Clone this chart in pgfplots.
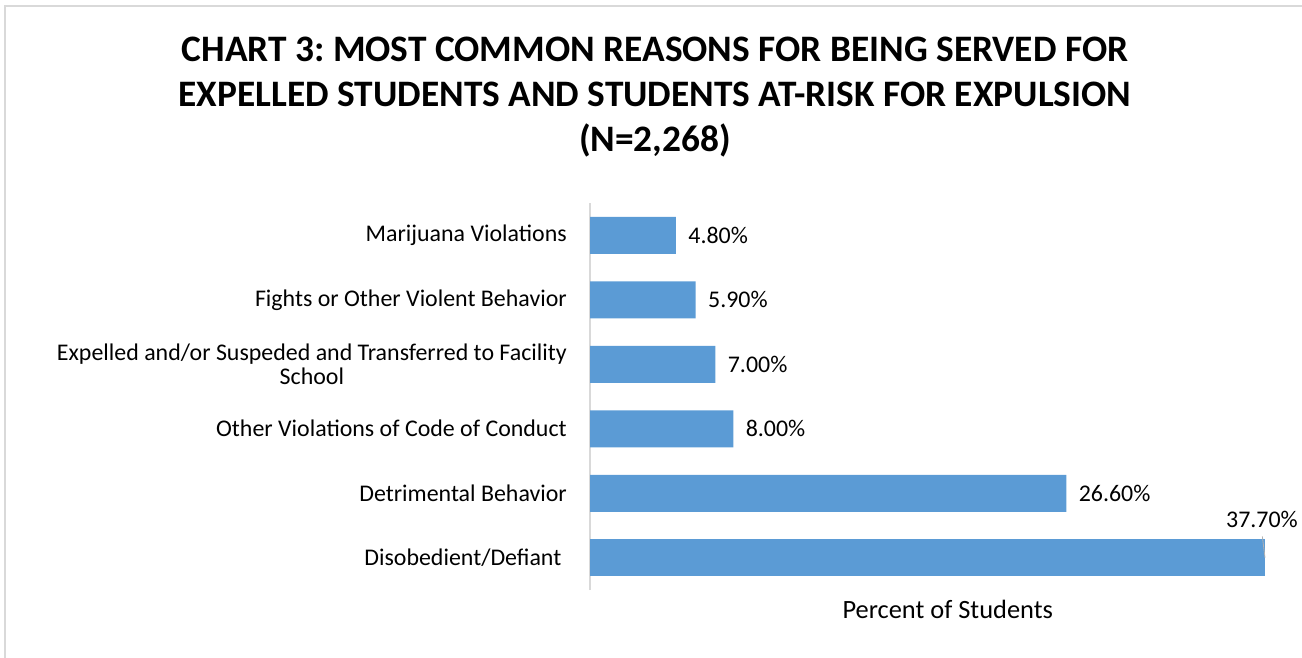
\documentclass[border=0pt]{standalone}
\usepackage{fontspec}
\setmainfont{Carlito}
\usepackage{pgfplots}
\pgfplotsset{compat=1.18}
\definecolor{barblue}{HTML}{5B9BD5}
\definecolor{framegray}{HTML}{D9D9D9}
\frenchspacing
\begin{document}
\begin{tikzpicture}[x=1bp,y=1bp]
\path[use as bounding box] (0,0) rectangle (1302,-657);
\draw[framegray, line width=1.5bp] (5,-670) -- (5,-6) -- (1310,-6);
\node[font=\fontsize{37.5}{45}\selectfont\bfseries, align=center] at (655,-97)
  {CHART 3: MOST COMMON REASONS FOR BEING SERVED FOR\\EXPELLED STUDENTS AND STUDENTS AT-RISK FOR EXPULSION\\(N=2,268)};
\begin{axis}[
  at={(590bp,-590bp)}, anchor=south west,
  scale only axis, width=675bp, height=387bp,
  xbar, bar width=37bp, bar shift=0pt,
  xmin=0, xmax=37.7, ymin=-0.5, ymax=5.5,
  axis x line*=bottom,
  x axis line style={draw=none},
  xtick=\empty,
  axis y line*=left,
  y axis line style={framegray, line width=1.2bp, -},
  ytick={0,1,2,3,4,5},
  yticklabels={{Disobedient/Defiant\ },{Detrimental Behavior},{Other Violations of Code of Conduct},{Expelled and/or Suspeded and Transferred to Facility\\School},{Fights or Other Violent Behavior},{Marijuana Violations}},
  major tick length=0pt,
  yticklabel style={font=\fontsize{24}{25}\selectfont, align=center, inner sep=0pt, xshift=-23bp},
  clip=false,
  point meta=explicit symbolic,
  nodes near coords,
  every node near coord/.append style={font=\fontsize{24}{25}\selectfont, black},
  xlabel={Percent of Students},
  xlabel style={font=\fontsize{26.5}{28}\selectfont, at={(axis description cs:0.53,0)}, anchor=north, yshift=-7bp},
]
\addplot[fill=barblue, draw=none, every node near coord/.append style={anchor=west, xshift=9bp}] coordinates {
  (26.6,1) [26.60\%]
  (8.0,2) [8.00\%]
  (7.0,3) [7.00\%]
  (5.9,4) [5.90\%]
  (4.8,5) [4.80\%]
};
\addplot[fill=barblue, draw=none, every node near coord/.append style={anchor=center, xshift=-3bp, yshift=38bp}] coordinates {
  (37.7,0) [37.70\%]
};
\draw[gray!60, line width=0.8bp] (axis cs:37.55,0.33) -- (axis cs:37.7,0.0);
\end{axis}
\end{tikzpicture}
\end{document}
